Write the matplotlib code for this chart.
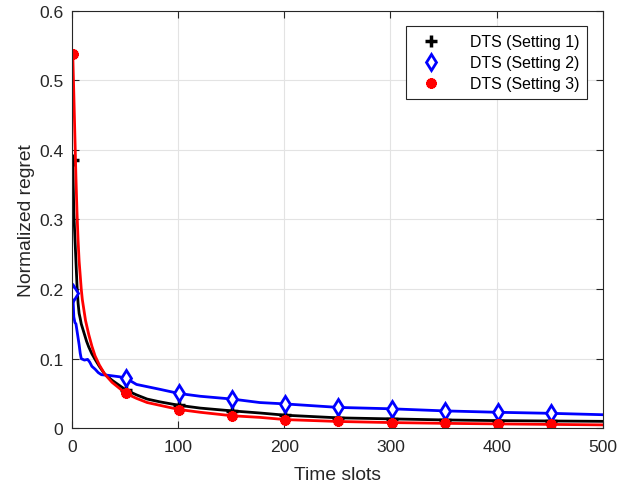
import matplotlib
matplotlib.use("Agg")
import matplotlib.pyplot as plt

plt.rcParams['font.family'] = ['Liberation Sans', 'DejaVu Sans']

t1 = [1, 2, 3, 4, 5, 6, 7, 8, 9, 10, 12, 14, 16, 19, 22, 26, 31, 38, 51, 61, 71, 83,
      101, 121, 151, 177, 201, 251, 301, 351, 401, 451, 500]
setting1 = [0.385, 0.31, 0.275, 0.24, 0.205, 0.18, 0.165, 0.158, 0.15, 0.145, 0.135, 0.125,
            0.117, 0.107, 0.099, 0.089, 0.078, 0.069, 0.055, 0.048, 0.042, 0.038, 0.033,
            0.029, 0.025, 0.022, 0.0188, 0.015, 0.0135, 0.012, 0.011, 0.0105, 0.010]
t2 = [1, 2, 3, 4, 5, 6, 7, 8, 9, 12, 15, 17, 19, 22, 25, 28, 35, 45, 51, 61, 83, 101, 121,
      151, 177, 201, 251, 301, 351, 401, 451, 500]
setting2 = [0.195, 0.16, 0.152, 0.15, 0.14, 0.13, 0.12, 0.108, 0.1, 0.098, 0.099, 0.095,
            0.089, 0.085, 0.08, 0.077, 0.076, 0.074, 0.072, 0.063, 0.056, 0.050, 0.046,
            0.042, 0.037, 0.035, 0.030, 0.028, 0.025, 0.023, 0.0215, 0.0195]
t3 = [1, 2, 3, 4, 5, 6, 7, 8, 9, 10, 11, 13, 16, 19, 22, 26, 31, 38, 51, 61, 71, 83, 101,
      121, 151, 177, 201, 251, 301, 351, 401, 451, 500]
setting3 = [0.538, 0.48, 0.42, 0.36, 0.31, 0.27, 0.24, 0.22, 0.2, 0.185, 0.175, 0.155, 0.135,
            0.118, 0.104, 0.091, 0.078, 0.066, 0.050, 0.043, 0.037, 0.033, 0.027, 0.023,
            0.018, 0.0157, 0.0125, 0.0098, 0.0082, 0.0071, 0.0063, 0.0056, 0.0049]
marker_t = [1, 51, 101, 151, 201, 251, 301, 351, 401, 451]
labels = ['DTS (Setting 1)', 'DTS (Setting 2)', 'DTS (Setting 3)']

fig = plt.figure(figsize=(6.39, 4.89), dpi=100)
ax = fig.add_axes([0.1122, 0.1221, 0.8315, 0.8540])

ax.plot(t1, setting1, color='black', lw=2.0, marker='+', ms=8, mew=2.5,
        markevery=[t1.index(m) for m in marker_t], label=labels[0])
ax.plot(t2, setting2, color='#0000ff', lw=2.0, marker='d', ms=8.5, mfc='white', mew=2.0,
        markevery=[t2.index(m) for m in marker_t], label=labels[1])
ax.plot(t3, setting3, color='#ff0000', lw=2.0, marker=(8, 2, 0), ms=7.5, mew=2.4,
        markevery=[t3.index(m) for m in marker_t], label=labels[2])

ax.set_xlim(0, 500)
ax.set_ylim(0, 0.6)
ax.set_xticks([0, 100, 200, 300, 400, 500])
ax.set_yticks([0, 0.1, 0.2, 0.3, 0.4, 0.5, 0.6])
ax.set_yticklabels(['0', '0.1', '0.2', '0.3', '0.4', '0.5', '0.6'])
ax.grid(True, color='#e3e3e3', lw=0.8)
ax.set_axisbelow(True)
ax.tick_params(direction='in', top=True, right=True, labelsize=12.6, colors='#262626', length=5)
ax.tick_params(axis='x', pad=8)
ax.tick_params(axis='y', pad=6)
for s in ax.spines.values():
    s.set_color('#262626')
    s.set_linewidth(0.8)
ax.set_xlabel('Time slots', fontsize=13.9, color='#262626', labelpad=8)
ax.set_ylabel('Normalized regret', fontsize=13.9, color='#262626', labelpad=3)

leg = ax.legend(loc='upper right', bbox_to_anchor=(0.970, 0.963), fontsize=11.4, fancybox=False,
                edgecolor='#262626', framealpha=1, handlelength=2.1, handletextpad=1.4,
                borderpad=0.5, labelspacing=0.38, borderaxespad=0)
for h in leg.get_lines():
    h.set_linestyle('none')
leg.get_frame().set_linewidth(0.8)

fig.savefig('out.png', dpi=100)
